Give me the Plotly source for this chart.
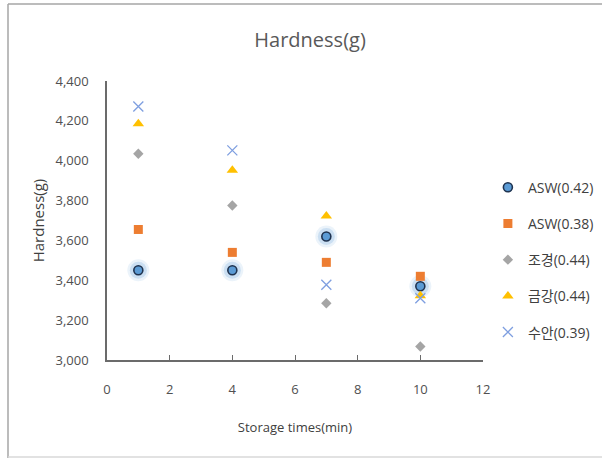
import plotly.graph_objects as go

# Storage time (min) for each measurement
times = [1, 4, 7, 10]

# Hardness (g) by sample
asw_042 = [3450, 3450, 3620, 3370]
asw_038 = [3655, 3540, 3490, 3420]
jogyeong = [4035, 3775, 3285, 3068]
geumgang = [4185, 3952, 3722, 3322]
suan = [4272, 4052, 3378, 3310]

names = ["ASW(0.42)", "ASW(0.38)", "조경(0.44)", "금강(0.44)", "수안(0.39)"]

y_ticks = [3000, 3200, 3400, 3600, 3800, 4000, 4200, 4400]
x_ticks = [0, 2, 4, 6, 8, 10, 12]

FONT = "Open Sans, Noto Sans CJK KR, sans-serif"
TEXT = "#505050"

fig = go.Figure()

# soft halo behind the ASW(0.42) points
for size, alpha in [(22, 0.12), (17, 0.22)]:
    fig.add_trace(go.Scatter(
        x=times, y=asw_042, mode="markers", showlegend=False, hoverinfo="skip",
        marker=dict(symbol="circle", size=size, color=f"rgba(91,155,213,{alpha})",
                    line=dict(width=0)),
    ))

styles = [
    dict(symbol="circle", size=9, color="#5B9BD5", line=dict(color="#1F3350", width=1.6)),
    dict(symbol="square", size=9, color="#ED7D31", line=dict(width=0)),
    dict(symbol="diamond", size=8, color="#A5A5A5", line=dict(width=0)),
    dict(symbol="triangle-up", size=10, color="#FFC000", line=dict(width=0)),
    dict(symbol="x-thin-open", size=10, color="#7F9FE0", line=dict(color="#7F9FE0", width=1.3)),
]

for name, vals, st in zip(names, [asw_042, asw_038, jogyeong, geumgang, suan], styles):
    fig.add_trace(go.Scatter(
        x=times, y=vals, mode="markers", name=name, legendgroup=name,
        marker=st,
    ))

# outer frame lines (paper coordinates relative to the plot area)
frame = "#A6A6A6"
fig.add_shape(type="line", xref="paper", yref="paper", x0=-0.2633, x1=1.32, y0=1.276, y1=1.276,
              line=dict(color=frame, width=1.5))
fig.add_shape(type="line", xref="paper", yref="paper", x0=-0.2633, x1=-0.2633, y0=1.276, y1=-0.36,
              line=dict(color=frame, width=1.5))
fig.add_shape(type="line", xref="paper", yref="paper", x0=-0.2633, x1=1.32, y0=-0.3477, y1=-0.3477,
              line=dict(color="#D9D9D9", width=1.5))

fig.update_layout(
    width=602, height=458,
    margin=dict(l=107, r=119, t=81, b=98, autoexpand=False),
    paper_bgcolor="white", plot_bgcolor="white",
    font=dict(family=FONT, color=TEXT, size=13),
    title=dict(text="Hardness(g)", x=0.54, xanchor="center", xref="paper",
               y=1 - 40 / 458, yanchor="middle",
               font=dict(size=20, color="#595959", family=FONT)),
    showlegend=True,
    legend=dict(x=1.013, y=0.675, xanchor="left", yanchor="top",
                font=dict(size=14, color="#404040", family=FONT),
                tracegroupgap=15, itemwidth=30, bgcolor="rgba(0,0,0,0)"),
    xaxis=dict(range=[0, 12], tickvals=x_ticks, showgrid=False, zeroline=False,
               showline=True, linecolor="#6B6B6B", linewidth=1.5,
               ticks="inside", ticklen=5, tickcolor="#6B6B6B", tickwidth=1.3,
               ticklabelstandoff=17, tickfont=dict(size=13, color=TEXT),
               title=dict(text="Storage times(min)", font=dict(size=13, color="#404040"), standoff=26)),
    yaxis=dict(range=[3000, 4400], tickvals=y_ticks, tickformat=",", showgrid=False, zeroline=False,
               showline=True, linecolor="#6B6B6B", linewidth=1.5, ticks="",
               ticklabelstandoff=14, tickfont=dict(size=13, color=TEXT),
               title=dict(text="Hardness(g)", font=dict(size=15, color="#404040"), standoff=7)),
)

fig.write_html("out.html")
